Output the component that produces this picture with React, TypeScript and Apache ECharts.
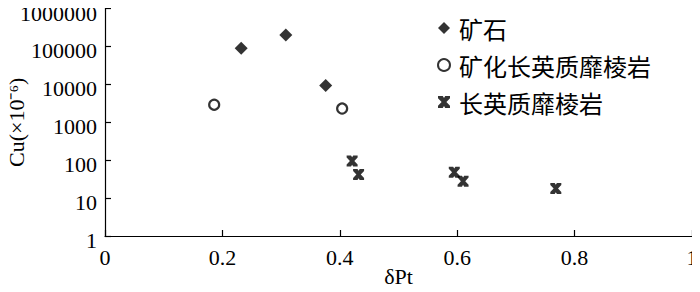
import React, { useEffect, useRef } from "react";
import * as echarts from "echarts";

const seriesNames = ["矿石", "矿化长英质靡棱岩", "长英质靡棱岩"];
const oreData: [number, number][] = [
  [0.232, 90000],
  [0.308, 200000],
  [0.376, 9300],
];
const mineralizedData: [number, number][] = [
  [0.186, 2900],
  [0.404, 2300],
];
const felsicData: [number, number][] = [
  [0.421, 95],
  [0.432, 42],
  [0.595, 48],
  [0.61, 28],
  [0.768, 18],
];
const yTicks = [1, 10, 100, 1000, 10000, 100000, 1000000];
const xTicks = [0, 0.2, 0.4, 0.6, 0.8, 1];

const crossPath =
  "path://M0,0 H4 L5,1.6 L6,0 H10 V1.8 L7,5 L10,8.2 V10 H6 L5,8.4 L4,10 H0 V8.2 L3,5 L0,1.8 Z";

const serif = "'Liberation Serif', 'Times New Roman', serif";
const cjk = "'Noto Sans CJK SC', sans-serif";

export default function App() {
  const ref = useRef<HTMLDivElement>(null);
  useEffect(() => {
    if (!ref.current) return;
    const chart = echarts.init(ref.current, undefined, { renderer: "svg" });
    chart.setOption({
      animation: false,
      backgroundColor: "#fff",
      grid: {
        left: 105,
        right: 8,
        top: 8.5,
        bottom: 56,
        containLabel: false,
        outerBoundsMode: "none",
      },
      legend: {
        orient: "vertical",
        left: 437,
        top: 16,
        padding: 0,
        itemWidth: 12,
        itemHeight: 12,
        itemGap: 13,
        textStyle: {
          fontFamily: cjk,
          fontSize: 24,
          lineHeight: 24,
          color: "#000",
          padding: [0, 0, 0, 4],
        },
        data: seriesNames,
      },
      xAxis: {
        type: "value",
        min: xTicks[0],
        max: xTicks[xTicks.length - 1],
        interval: 0.2,
        name: "δPt",
        nameLocation: "middle",
        nameGap: 29,
        nameMoveOverlap: false,
        nameTextStyle: { fontFamily: serif, fontSize: 22, color: "#000" },
        axisLine: { show: true, lineStyle: { color: "#000", width: 1.2 } },
        axisTick: { show: true, inside: true, length: 6, lineStyle: { color: "#000", width: 1.2 } },
        axisLabel: {
          fontFamily: serif,
          fontSize: 22,
          color: "#000",
          margin: 10,
          formatter: (v: number) => {
            const t = xTicks.find((x) => Math.abs(x - v) < 1e-6);
            return t === undefined ? "" : String(t);
          },
        },
        splitLine: { show: false },
      },
      yAxis: {
        type: "log",
        logBase: 10,
        min: yTicks[0],
        max: yTicks[yTicks.length - 1],
        interval: 1,
        name: "Cu(×10⁻⁶)",
        nameLocation: "middle",
        nameGap: 78,
        nameMoveOverlap: false,
        nameRotate: 90,
        nameTextStyle: { fontFamily: serif, fontSize: 22, color: "#000" },
        axisLine: { show: true, lineStyle: { color: "#000", width: 1.2 } },
        axisTick: { show: true, inside: true, length: 6, lineStyle: { color: "#000", width: 1.2 } },
        axisLabel: {
          fontFamily: serif,
          fontSize: 22,
          color: "#000",
          margin: 8,
          formatter: (v: number) => {
            const t = yTicks.find((y) => Math.abs(y - v) / y < 1e-6);
            return t === undefined ? "" : "{a|" + String(t) + "}";
          },
          rich: {
            a: {
              fontFamily: serif,
              fontSize: 22,
              color: "#000",
              padding: [9, 0, 0, 0],
            },
          },
        },
        splitLine: { show: false },
      },
      series: [
        {
          name: seriesNames[0],
          type: "scatter",
          data: oreData,
          symbol: "diamond",
          symbolSize: 13,
          itemStyle: { color: "#000" },
        },
        {
          name: seriesNames[1],
          type: "scatter",
          data: mineralizedData,
          symbol: "circle",
          symbolSize: 10,
          itemStyle: { color: "#fff", borderColor: "#000", borderWidth: 2.2 },
        },
        {
          name: seriesNames[2],
          type: "scatter",
          data: felsicData,
          symbol: crossPath,
          symbolSize: 11,
          itemStyle: { color: "#000" },
        },
      ],
    });
    return () => chart.dispose();
  }, []);
  return <div ref={ref} style={{ width: 700, height: 292, margin: -8 }} />;
}
